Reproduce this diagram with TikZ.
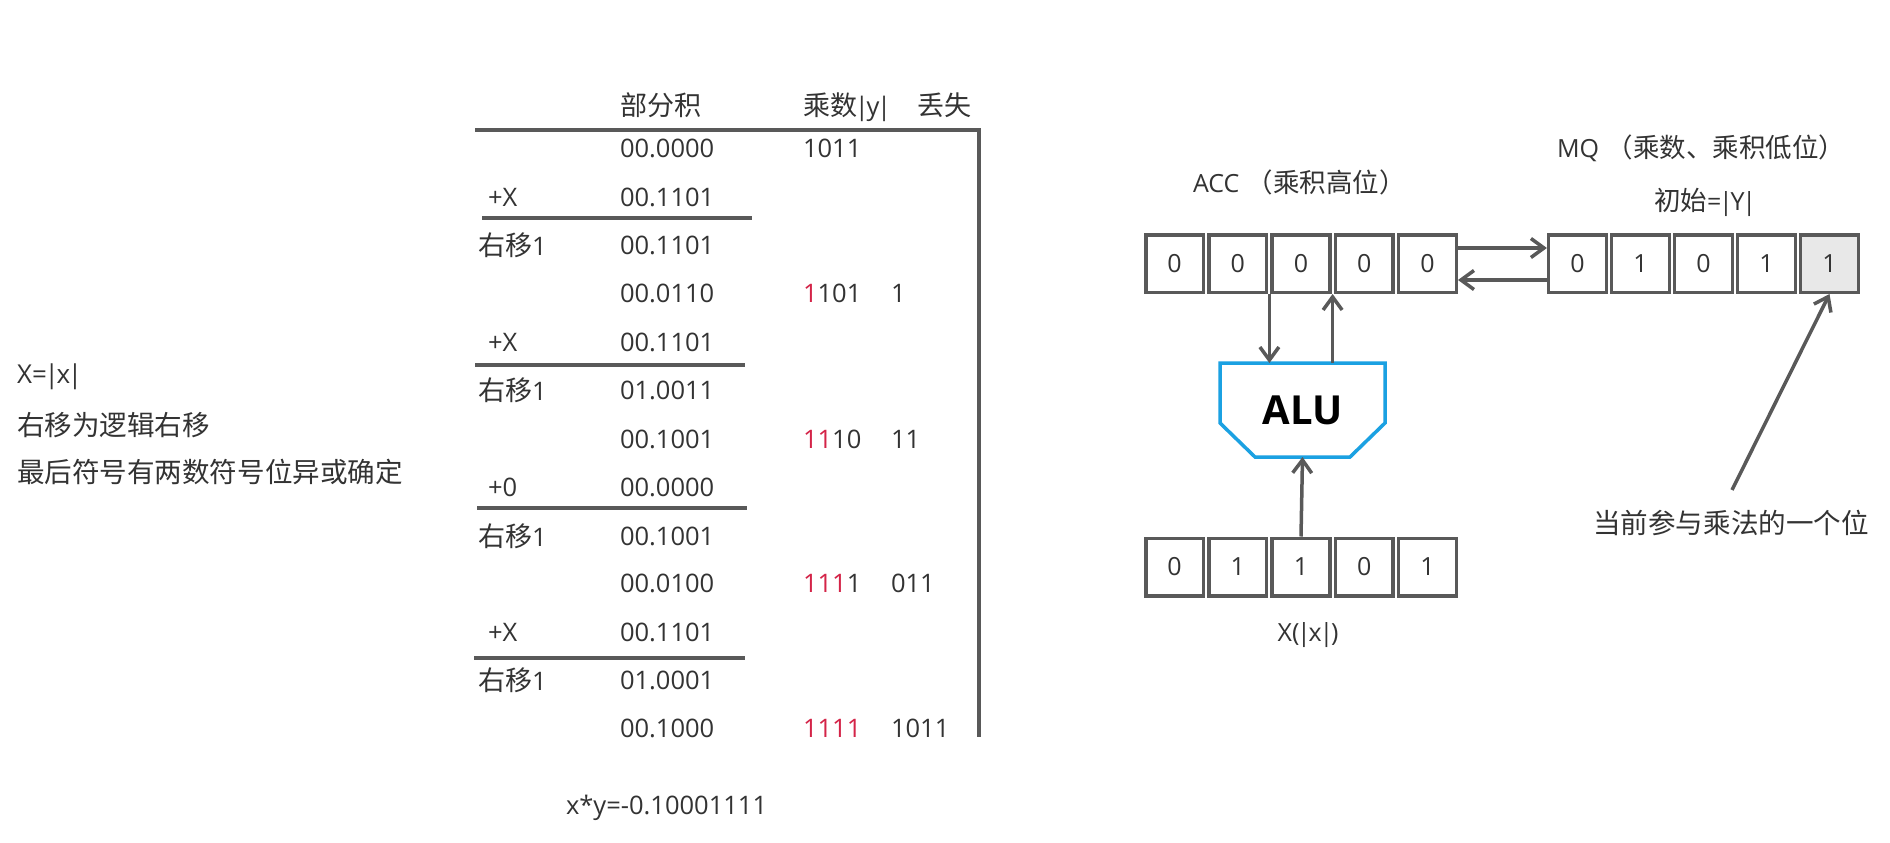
\documentclass[tikz,border=0pt]{standalone}
\usepackage{fontspec}
\setmainfont{Open Sans}
\newfontfamily\zhf[Scale=1.06]{Noto Sans CJK SC}
\newcommand\zh[1]{{\zhf #1}}
\newcommand\vb{\kern-0.09em|\kern-0.09em}
\usetikzlibrary{arrows.meta,calc}
\definecolor{tc}{RGB}{51,51,51}
\definecolor{lc}{RGB}{89,89,89}
\definecolor{rd}{RGB}{212,36,72}
\definecolor{alub}{RGB}{27,161,226}
\definecolor{gf}{RGB}{232,232,232}
\newcommand\rd[1]{\textcolor{rd}{#1}}
\begin{document}
\begin{tikzpicture}[x=1pt,y=-1pt,
  t/.style={inner sep=0pt, outer sep=0pt, text=tc, anchor=west, font=\fontsize{25.5}{30}\selectfont},
  note/.style={inner sep=0pt, outer sep=0pt, text=tc, anchor=west, font=\fontsize{26}{31}\selectfont},
  lbl/.style={inner sep=0pt, outer sep=0pt, text=tc, anchor=west, font=\fontsize{25}{29}\selectfont},
  rule/.style={draw=lc, line width=3.5pt},
  reg/.style={draw=lc, line width=3.5pt, minimum width=57.7pt, minimum height=57.5pt, inner sep=0pt, outer sep=1.75pt, fill=white, text=tc, font=\fontsize{25}{30}\selectfont},
  arr/.style={draw=lc, line width=3.5pt, -{Straight Barb[length=13pt,width=19pt]}},
]
\fill[white] (0,0) rectangle (1890,843);
\useasboundingbox (0,0) rectangle (1890,843);

% left notes
\node[note] (n1) at (17,377) {X=\vb x\vb};
\node[note] (n2) at (17,425) {\zh{右移为逻辑右移}};
\node[note] (n3) at (17,472) {\zh{最后符号有两数符号位异或确定}};

% table headers
\node[t] (h1) at (620,105) {\zh{部分积}};
\node[t] (h2) at (803,107) {\zh{乘数}\vb y\vb};
\node[t] (h3) at (917,105) {\zh{丢失}};

% table rules
\draw[rule] (475,130) -- (979,130) -- (979,737);
\draw[rule] (482,218) -- (752,218);
\draw[rule] (475,365) -- (745,365);
\draw[rule] (477,508) -- (747,508);
\draw[rule] (474,658) -- (745,658);

% rows
\node[t] (p1) at (620,148) {00.0000};
\node[t] (m1) at (803,148) {1011};
\node[t] (l2) at (488,197) {+X};
\node[t] (p2) at (620,197) {00.1101};
\node[t] (l3) at (478,245) {\zh{右移}1};
\node[t] (p3) at (620,245) {00.1101};
\node[t] (p4) at (620,293) {00.0110};
\node[t] (m4) at (803,293) {\rd{1}101};
\node[t] (o4) at (891,293) {1};
\node[t] (l5) at (488,342) {+X};
\node[t] (p5) at (620,342) {00.1101};
\node[t] (l6) at (478,390) {\zh{右移}1};
\node[t] (p6) at (620,390) {01.0011};
\node[t] (p7) at (620,439) {00.1001};
\node[t] (m7) at (803,439) {\rd{11}10};
\node[t] (o7) at (891,439) {11};
\node[t] (l8) at (488,487) {+0};
\node[t] (p8) at (620,487) {00.0000};
\node[t] (l9) at (478,536) {\zh{右移}1};
\node[t] (p9) at (620,536) {00.1001};
\node[t] (p10) at (620,583) {00.0100};
\node[t] (m10) at (803,583) {\rd{111}1};
\node[t] (o10) at (891,583) {011};
\node[t] (l11) at (488,632) {+X};
\node[t] (p11) at (620,632) {00.1101};
\node[t] (l12) at (478,680) {\zh{右移}1};
\node[t] (p12) at (620,680) {01.0001};
\node[t] (p13) at (620,728) {00.1000};
\node[t] (m13) at (803,728) {\rd{1111}};
\node[t] (o13) at (891,728) {1011};

\node[t] (res) at (566,808) {x*y=-0.10001111};

% registers
\foreach \v [count=\i from 0] in {0,0,0,0,0}
  \node[reg] (acc\i) at (1174.6+63.2*\i, 263.5) {\v};
\foreach \v [count=\i from 0] in {0,1,0,1}
  \node[reg] (mq\i) at (1577.5+63*\i, 263.5) {\v};
\node[reg, fill=gf] (mq4) at (1829.5, 263.5) {1};
\foreach \v [count=\i from 0] in {0,1,1,0,1}
  \node[reg] (xr\i) at (1174.6+63.2*\i, 567) {\v};

% labels
\node[lbl] (acclbl) at (1193,182) {ACC\kern0.3em\zh{（乘积高位）}};
\node[lbl] (mqlbl) at (1557,148) {MQ\kern0.3em\zh{（乘数、乘积低位）}};
\node[lbl, anchor=center] (initlbl) at (1704,202) {\zh{初始}=\vb Y\vb};
\node[lbl, anchor=center] (xlbl) at (1308,635) {X(\vb x\vb)};

% ALU
\node[inner sep=0pt, outer sep=0pt, minimum width=165pt, minimum height=94pt, font=\fontsize{40}{46}\selectfont\bfseries] (alu) at (1302.5,410) {ALU};
\draw[draw=alub, line width=3.5pt, line join=miter]
  (alu.north west) -- (alu.north east) -- ([yshift=34pt]alu.south east)
  -- ([xshift=-35pt]alu.south east) -- ([xshift=35pt]alu.south west)
  -- ([yshift=34pt]alu.south west) -- cycle;

% arrows
\draw[arr] ([yshift=15.5pt]acc4.east) -- ([yshift=15.5pt]mq0.west);
\draw[arr] ([yshift=-16.5pt]mq0.west) -- ([yshift=-16.5pt]acc4.east);
\coordinate (dA) at ($(acc1.south east)!0.5!(acc2.south west)$);
\coordinate (uA) at ($(acc2.south east)!0.5!(acc3.south west)$);
\draw[arr] (dA) -- (dA |- alu.north);
\draw[arr] (uA |- alu.north) -- (uA);
\draw[arr] (xr2.north) -- (alu.south);

\node[note, anchor=center] (cur) at (1731,523) {\zh{当前参与乘法的一个位}};
\coordinate (ptail) at (1732,490);
\draw[arr] (ptail) -- (mq4.south);
\end{tikzpicture}
\end{document}
